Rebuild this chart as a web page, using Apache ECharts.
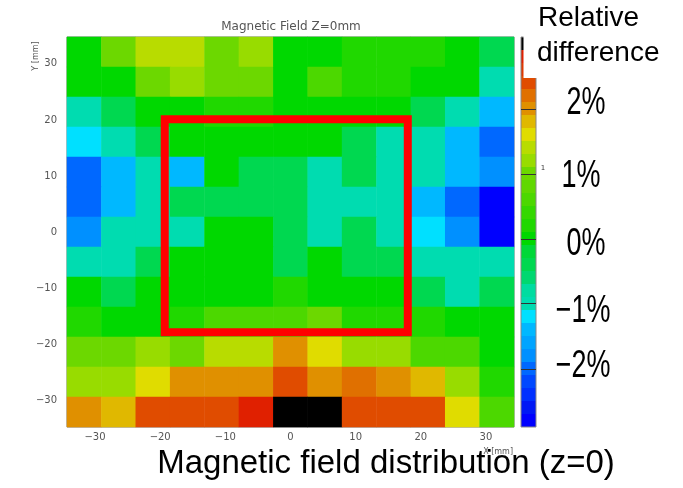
<!DOCTYPE html>
<html><head><meta charset="utf-8">
<script src="https://cdn.jsdelivr.net/npm/echarts@6/dist/echarts.min.js"></script>
<style>html,body{margin:0;padding:0;background:#fff}#c{width:683px;height:488px}</style>
</head><body><div id="c"></div>
<script>
// Bin centres (mm)
const xBins = ['-31.7','-26.4','-21.1','-15.8','-10.6','-5.3','0','5.3','10.6','15.8','21.1','26.4','31.7'];
const yBins = ['-32.1','-26.8','-21.4','-16.1','-10.7','-5.4','0','5.4','10.7','16.1','21.4','26.8','32.1'];
// Relative difference (%) per cell, rows listed from top (y=+32) to bottom (y=-32)
const rowsTopToBottom = [
  [0, 1.0, 1.4, 1.4, 1.0, 1.2, 0, 0, 0.2, 0.2, 0.2, 0, -0.4],
  [0, 0, 1.0, 1.2, 1.0, 1.0, 0, 0.6, 0.2, 0.2, 0, 0, -1.0],
  [-1.0, -0.4, 0, 0, 0.2, 0.2, 0, 0, 0, 0, -0.4, -1.0, -1.4],
  [-1.2, -1.0, -0.4, 0, 0, 0, 0, 0, -0.4, -1.0, -1.0, -1.4, -2.0],
  [-2.0, -1.4, -1.0, -1.4, 0, -0.4, -0.4, -1.0, -0.4, -1.0, -1.0, -1.4, -1.8],
  [-2.0, -1.4, -1.0, -0.4, -0.4, -0.4, -0.4, -1.0, -1.0, -1.0, -1.4, -2.0, -2.8],
  [-1.8, -1.0, -1.0, -1.0, 0, 0, -0.4, -1.0, -0.4, -1.0, -1.2, -1.8, -2.8],
  [-1.0, -1.0, -0.4, 0, 0, 0, -0.4, 0, -0.4, -0.4, -1.0, -1.0, -1.0],
  [0, -0.4, 0, 0, 0, 0, 0.2, 0, 0, 0, -0.4, -1.0, -0.4],
  [0.2, 0, 0, 0.2, 0.6, 0.6, 0.6, 1.0, 0.2, 0.2, 0.2, 0, 0],
  [1.0, 1.0, 1.2, 1.0, 1.4, 1.4, 2.0, 1.6, 1.2, 1.2, 0.6, 0.6, 0],
  [1.2, 1.2, 1.6, 2.0, 2.0, 2.0, 2.4, 2.0, 2.2, 2.0, 1.8, 1.2, 0.2],
  [2.0, 1.8, 2.4, 2.4, 2.4, 2.8, 3.0, 3.0, 2.4, 2.4, 2.4, 1.6, 0.6]
];
const xTicks = [-30, -20, -10, 0, 10, 20, 30];
const yTicks = [-30, -20, -10, 0, 10, 20, 30];
// Highlighted region (mm): [xMin, xMax], [yMin, yMax]
const frameX = [-19.3, 18.0];
const frameY = [-17.9, 20.1];
// Colour scale (%), bands bottom to top
const bandMin = -2.9, bandStep = 0.2;
const bandColors = ['#0000ff','#0018f5','#0030ff','#0048ff','#0068ff','#0090ff','#00a4ff','#00b8ff','#00e0ff','#00dcb0',
  '#00dca0','#00d870','#00d850','#00d838','#00d800','#20d800','#34d800','#4cd800','#60d800','#6cd800',
  '#98dc00','#b8dc00','#e0dc00','#e0b800','#e09000','#e07000','#e04c00','#e03800','#e02000','#000000'];
const scaleLabels = ['2%', '1%', '0%', '\u22121%', '\u22122%'];
const scaleLabelY = [104, 177, 245, 312, 367];
const scaleLabelX = [586, 581, 586, 583, 583];
const scaleTickValues = [2, 1, 0, -1, -2];

const data = [];
rowsTopToBottom.forEach((row, r) => {
  row.forEach((v, c) => data.push([c, rowsTopToBottom.length - 1 - r, v]));
});
const pieces = bandColors.map((col, k) => ({gte: bandMin + k * bandStep - 1e-9, lt: bandMin + (k + 1) * bandStep - 1e-9, color: col}));
const bandTop = bandMin + bandColors.length * bandStep;
const cbLeft = 521, cbTop = 37, cbW = 15, cbItemH = 13, cbH = cbItemH * bandColors.length;
const minus = v => String(v).replace('-', '\u2212');

const graphics = [];
graphics.push({type:'rect', z:50, shape:{x:cbLeft, y:cbTop, width:cbW, height:cbH}, style:{fill:'none', stroke:'#888', lineWidth:1}});
scaleTickValues.forEach(v => {
  const y = Math.round(cbTop + (bandTop - v) / (bandTop - bandMin) * cbH) + 0.5;
  graphics.push({type:'line', z:60, shape:{x1:cbLeft, y1:y, x2:cbLeft + cbW, y2:y}, style:{stroke:'#333', lineWidth:1}});
});
graphics.push({type:'rect', z:100, shape:{x:523.5, y:25, width:40, height:53}, style:{fill:'#fff'}});
graphics.push({type:'text', z:110, style:{text:'Relative', x:538, y:18, font:'28px "Liberation Sans", Arial, sans-serif', fill:'#000', verticalAlign:'middle'}});
graphics.push({type:'text', z:110, style:{text:'difference', x:537, y:53, font:'28px "Liberation Sans", Arial, sans-serif', fill:'#000', verticalAlign:'middle'}});
scaleLabels.forEach((t, i) => {
  graphics.push({type:'text', z:110, x:scaleLabelX[i], y:scaleLabelY[i], scaleX:0.71, scaleY:1,
    style:{text:t, x:0, y:0, font:'38px "Liberation Sans", Arial, sans-serif', fill:'#000', align:'center', verticalAlign:'middle'}});
});
graphics.push({type:'text', z:110, style:{text:'1', x:543, y:168, font:'7px "DejaVu Sans", sans-serif', fill:'#333', align:'center', verticalAlign:'middle'}});
graphics.push({type:'text', z:110, style:{text:'Magnetic field distribution (z=0)', x:386, y:464, font:'33px "Liberation Sans", Arial, sans-serif', fill:'#000', align:'center', verticalAlign:'middle'}});
graphics.push({type:'text', z:110, rotation:Math.PI/2, x:36, y:56, style:{text:'Y [mm]', x:0, y:0, font:'8px "DejaVu Sans", sans-serif', fill:'#555', align:'center', verticalAlign:'middle'}});
graphics.push({type:'text', z:110, style:{text:'X [mm]', x:513, y:452, font:'8px "DejaVu Sans", sans-serif', fill:'#555', align:'right', verticalAlign:'middle'}});

const chart = echarts.init(document.getElementById('c'), null, {renderer:'canvas'});
chart.setOption({
  animation: false,
  backgroundColor: '#fff',
  title: {text:'Magnetic Field Z=0mm', left:291, top:21, textAlign:'center', padding:0,
    textStyle:{fontSize:12, fontWeight:'normal', color:'#555', fontFamily:'"DejaVu Sans", sans-serif'}},
  grid: {left:67, top:37, width:447, height:390, show:true, borderColor:'#777', borderWidth:1, backgroundColor:'transparent', containLabel:false},
  xAxis: [
    {type:'category', data:xBins, show:false, gridIndex:0},
    {type:'value', gridIndex:0, position:'bottom', min:-34.3, max:34.3,
      axisLine:{show:false}, axisTick:{show:false}, splitLine:{show:false},
      axisLabel:{customValues:xTicks, formatter:minus, color:'#555', fontSize:10, margin:5, fontFamily:'"DejaVu Sans", sans-serif'}}
  ],
  yAxis: [
    {type:'category', data:yBins, show:false, gridIndex:0},
    {type:'value', gridIndex:0, position:'left', min:-34.8, max:34.8,
      axisLine:{show:false}, axisTick:{show:false}, splitLine:{show:false},
      axisLabel:{customValues:yTicks, formatter:minus, color:'#555', fontSize:10, margin:10, fontFamily:'"DejaVu Sans", sans-serif'}}
  ],
  visualMap: {type:'piecewise', seriesIndex:0, pieces:pieces, itemSymbol:'rect', itemWidth:cbW, itemHeight:cbItemH, itemGap:0,
    showLabel:false, left:cbLeft, top:cbTop, padding:0, orient:'vertical', hoverLink:false, selectedMode:false},
  series: [
    {type:'heatmap', xAxisIndex:0, yAxisIndex:0, data:data, silent:true, itemStyle:{borderWidth:0}},
    {type:'custom', xAxisIndex:1, yAxisIndex:1, silent:true, z:10,
      data:[[frameX[0], frameY[0], frameX[1], frameY[1]]],
      renderItem: function (params, api) {
        const p0 = api.coord([api.value(0), api.value(3)]);
        const p1 = api.coord([api.value(2), api.value(1)]);
        return {type:'rect', shape:{x:p0[0], y:p0[1], width:p1[0]-p0[0], height:p1[1]-p0[1]},
          style:{fill:'none', stroke:'#ff0000', lineWidth:8, lineJoin:'miter'}};
      }}
  ],
  graphic: graphics
});
</script></body></html>
